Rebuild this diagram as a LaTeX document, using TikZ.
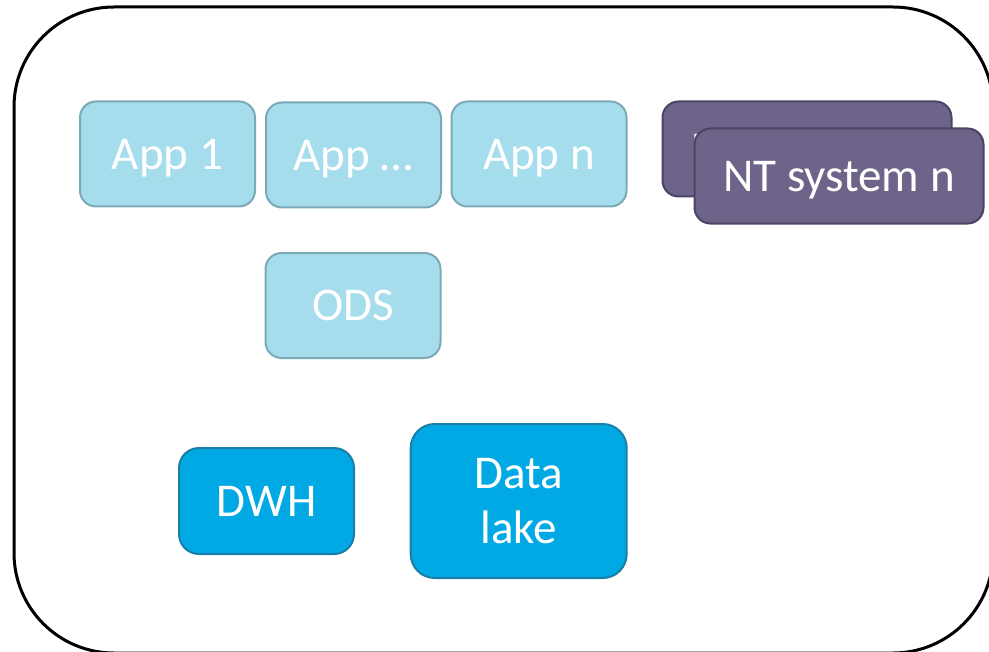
\documentclass[tikz,border=0pt]{standalone}
\usepackage{fontspec}
\setmainfont{Carlito}
\usepackage{tikz}
\definecolor{appfill}{HTML}{A6DDED}
\definecolor{appline}{HTML}{7BA9B5}
\definecolor{ntfill}{HTML}{6E6489}
\definecolor{ntline}{HTML}{4B4366}
\definecolor{storefill}{HTML}{00A9E3}
\definecolor{storeline}{HTML}{1A7FA8}
\tikzset{
  sysbox/.style={rounded corners=8pt, line width=1pt, inner sep=0pt, text=white,
    font=\fontsize{23.5}{27.5}\selectfont, align=center},
  app/.style={sysbox, draw=appline, fill=appfill, minimum width=87.5pt, minimum height=52.5pt,
    text height=15.1pt, text depth=0pt},
  ntsys/.style={sysbox, draw=ntline, fill=ntfill, minimum width=144.5pt, minimum height=47.5pt,
    text height=15.1pt, text depth=0pt},
  store/.style={sysbox, draw=storeline, fill=storefill, minimum height=53pt},
}
\newcommand{\appbox}[4]{\node[app] (#1) at ( #2 , #3 ) {#4};}
\newcommand{\ntbox}[4]{\node[ntsys] (#1) at ( #2 , #3 ) {#4};}

\begin{document}
\begin{tikzpicture}[x=0.5pt, y=-0.5pt]
\useasboundingbox (0,0) rectangle (989,652);
\clip (0,0) rectangle (989,652);
% outer frame
\draw[line width=1.5pt, rounded corners=50pt] (14,7) rectangle (993,653);
% row 1 of apps
\appbox{app1}{167.5}{154}{App 1}
\appbox{appdots}{353.5}{155}{App …}
\appbox{appn}{539}{154}{App n}
% ods
\appbox{ods}{353}{305.5}{ODS}
% nt systems
\ntbox{nt1}{807}{149}{NT system 1}
\ntbox{ntn}{839}{176}{NT system n}
% stores
\node[store, minimum width=87.5pt, rounded corners=10pt] (dwh) at (266.5,501) {DWH};
\node[store, minimum width=108pt, minimum height=77pt, rounded corners=12pt] (lake) at (518.7,501) {Data\\lake};
\end{tikzpicture}
\end{document}
